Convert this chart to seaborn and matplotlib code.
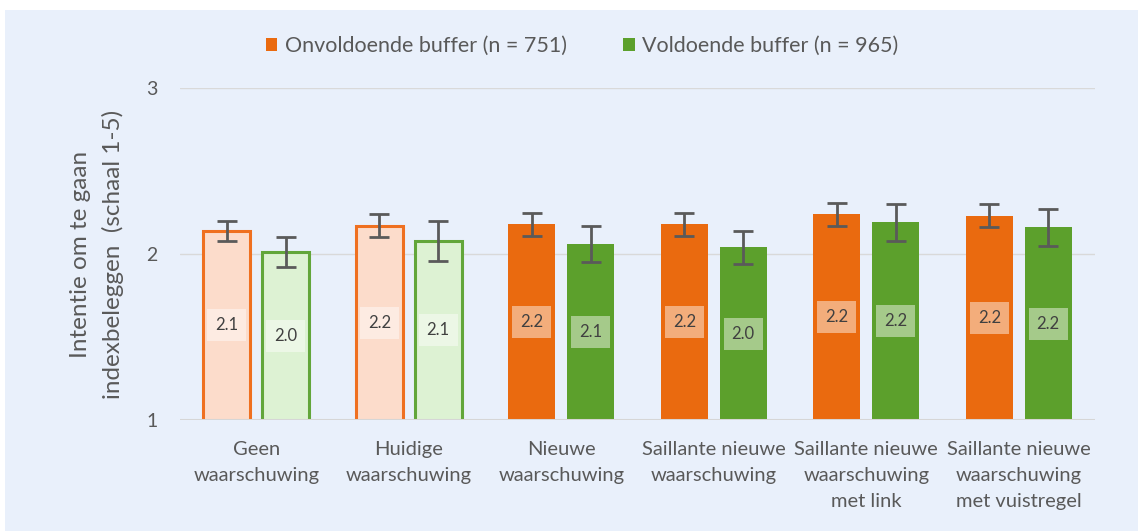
import matplotlib
matplotlib.use("Agg")
import matplotlib.pyplot as plt
import seaborn as sns
import pandas as pd
from matplotlib.patches import Rectangle, Patch

# Categories, series and values
categories = [
    "Geen\nwaarschuwing",
    "Huidige\nwaarschuwing",
    "Nieuwe\nwaarschuwing",
    "Saillante nieuwe\nwaarschuwing",
    "Saillante nieuwe\nwaarschuwing\nmet link",
    "Saillante nieuwe\nwaarschuwing\nmet vuistregel",
]
groups = ["Onvoldoende buffer (n = 751)", "Voldoende buffer (n = 965)"]
onvoldoende = [2.14, 2.17, 2.18, 2.18, 2.24, 2.23]
voldoende = [2.01, 2.08, 2.06, 2.04, 2.19, 2.16]
onvoldoende_err = [0.06, 0.07, 0.07, 0.07, 0.07, 0.07]
voldoende_err = [0.09, 0.12, 0.11, 0.10, 0.11, 0.11]
y_ticks = [1, 2, 3]
y_label = "Intentie om te gaan\nindexbeleggen  (schaal 1-5)"

df = pd.DataFrame({
    "conditie": categories * 2,
    "groep": [groups[0]] * len(categories) + [groups[1]] * len(categories),
    "score": onvoldoende + voldoende,
})

ORANGE = "#EA6A0F"
GREEN = "#5CA02C"
ORANGE_LIGHT = "#FCDCCB"
GREEN_LIGHT = "#DDF2D3"
ORANGE_EDGE = "#EF7020"
GREEN_EDGE = "#62A63A"
BG = "#E9F0FB"
TEXT = "#595959"

sns.set_style("white")
plt.rcParams["font.family"] = ["Lato", "DejaVu Sans"]

fig = plt.figure(figsize=(11.38, 5.31), dpi=100, facecolor="white")
fig.patches.append(Rectangle((5 / 1138, 0), 1, 1 - 10 / 531, transform=fig.transFigure,
                             facecolor=BG, edgecolor="none", zorder=-10))
ax = fig.add_axes([180 / 1138, 1 - 420 / 531, 915 / 1138, 332 / 531])
ax.patch.set_alpha(0)

sns.barplot(data=df, x="conditie", y="score", hue="groep", order=categories,
            hue_order=groups, palette=[ORANGE, GREEN], saturation=1,
            width=0.77, gap=0.2, errorbar=None, legend=False, ax=ax, zorder=2)

series = [(onvoldoende, onvoldoende_err, ORANGE_LIGHT, ORANGE_EDGE),
          (voldoende, voldoende_err, GREEN_LIGHT, GREEN_EDGE)]
for cont, (vals, errs, light, edge) in zip(ax.containers, series):
    xs = []
    for i, bar in enumerate(cont):
        xc = bar.get_x() + bar.get_width() / 2
        xs.append(xc)
        if i < 2:
            bar.set_facecolor(light)
            bar.set_edgecolor(edge)
            bar.set_linewidth(2.2)
        else:
            bar.set_edgecolor("none")
        ax.text(xc, (1 + vals[i]) / 2, f"{vals[i]:.1f}", ha="center", va="center",
                fontsize=12, color="#404040", zorder=5,
                bbox=dict(boxstyle="square,pad=0.48", facecolor="white",
                          edgecolor="none", alpha=0.45))
    ax.errorbar(xs, vals, yerr=errs, fmt="none", ecolor="#5A5A5A", elinewidth=2,
                capsize=7, capthick=2, zorder=4)

ax.set_ylim(1, 3)
ax.set_xlim(-0.5, len(categories) - 0.5)
ax.set_yticks(y_ticks)
ax.set_yticklabels([str(t) for t in y_ticks])
ax.yaxis.grid(True, color="#D9D9D9", linewidth=1)
ax.set_axisbelow(True)
ax.axhline(1, color="#D6D6D6", linewidth=2.2, zorder=3)
for s in ax.spines.values():
    s.set_visible(False)
ax.tick_params(axis="both", length=0, colors=TEXT)
ax.tick_params(axis="y", labelsize=14, pad=16)
ax.tick_params(axis="x", labelsize=14.5, pad=15)
for lbl in ax.get_xticklabels():
    lbl.set_linespacing(1.66)
    lbl.set_color(TEXT)
ax.set_xlabel("")
ax.set_ylabel(y_label, fontsize=17.5, color=TEXT, linespacing=1.6)
ax.yaxis.set_label_coords(-0.061, 0.5)

handles = [Patch(facecolor=ORANGE, edgecolor="none"), Patch(facecolor=GREEN, edgecolor="none")]
fig.legend(handles, groups, loc="center", bbox_to_anchor=(582 / 1138, 1 - 46 / 531),
           ncol=2, frameon=False, fontsize=15.5, labelcolor=TEXT,
           handlelength=0.55, handleheight=0.55, handletextpad=0.35, columnspacing=2.6)

fig.savefig("out.png", dpi=100, facecolor=fig.get_facecolor())
